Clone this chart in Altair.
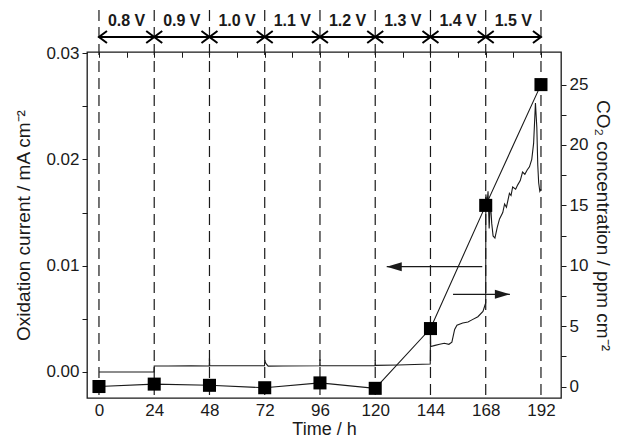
import altair as alt
import pandas as pd

# ---------------- data ----------------
# oxidation current trace (left axis, mA cm^-2)
time_h = [0, 23.9, 24.0, 30, 40, 47.9, 48.0, 48.1, 60, 71.9, 72.0, 72.5, 73.5, 80,
          95.9, 96.0, 96.1, 105, 119.9, 120.0, 120.1, 130, 143.9, 144.0, 144.1,
          146, 148, 150, 152, 153.3, 154.5, 155.5, 158, 160.3, 162, 164.6, 166.8,
          167.7, 168.0, 168.05, 168.6, 169.0, 169.5, 170.0, 170.6, 171.2, 172.0,
          173.0, 174.0, 175.4, 176.2, 177.0, 178.3, 179.0, 179.7, 181.0, 181.9,
          183.0, 184.0, 185.0, 186.0, 187.0, 188.0, 188.8, 189.6, 190.2, 190.6,
          191.0, 191.5, 192.0]
current = [0.0, 0.0, 0.00056, 0.00056, 0.00057, 0.00056, 0.0013, 0.00058, 0.00058,
           0.00058, 0.0011, 0.0008, 0.00055, 0.00056, 0.00058, 0.0012, 0.0006,
           0.00058, 0.00058, 0.0011, 0.00062, 0.00065, 0.00075, 0.0035, 0.0024,
           0.0025, 0.0026, 0.0027, 0.0026, 0.0028, 0.0040, 0.0044, 0.0046, 0.0047,
           0.0049, 0.0052, 0.0057, 0.0063, 0.0065, 0.0167, 0.0158, 0.0170, 0.0135,
           0.0162, 0.0140, 0.0128, 0.0126, 0.0136, 0.0144, 0.0150, 0.0158, 0.0155,
           0.0168, 0.0166, 0.0174, 0.0172, 0.0176, 0.0180, 0.0188, 0.0186, 0.0190,
           0.0193, 0.0200, 0.0215, 0.0253, 0.0230, 0.0195, 0.0178, 0.0170, 0.0172]

# CO2 concentration (right axis, ppm cm^-2)
co2_time = [0, 24, 48, 72, 96, 120, 144, 168, 192]
co2_ppm = [0.0, 0.2, 0.1, -0.1, 0.3, -0.15, 4.8, 15.0, 25.0]

# potential steps
boundaries = [0, 24, 48, 72, 96, 120, 144, 168, 192]
voltages = ["0.8 V", "0.9 V", "1.0 V", "1.1 V", "1.2 V", "1.3 V", "1.4 V", "1.5 V"]

# in-plot arrows (start, end, current-axis level)
arrow_left = [125.0, 166.5, 0.0099]
arrow_right = [153.8, 178.5, 0.0073]

# tick lists
x_major = [0, 24, 48, 72, 96, 120, 144, 168, 192]
x_minor = list(range(0, 193, 12))
y_left_ticks = [0, 0.005, 0.01, 0.015, 0.02, 0.025, 0.03]
y_right_ticks = [0, 2.5, 5, 7.5, 10, 12.5, 15, 17.5, 20, 22.5, 25]

# ---------------- layout ----------------
W, H = 474, 346
X_DOM = [-5.2, 200.7]
Y_LEFT = [-0.00245, 0.0301]
Y_RIGHT = [-0.95, 27.7]
FONT = "Liberation Sans"
INK = "#1a1a1a"

xs = alt.Scale(domain=X_DOM, nice=False, zero=False)
yl = alt.Scale(domain=Y_LEFT, nice=False, zero=False)
yr = alt.Scale(domain=Y_RIGHT, nice=False, zero=False)

df_cur = pd.DataFrame({"t": time_h, "i": current, "k": range(len(time_h))})
df_co2 = pd.DataFrame({"t": co2_time, "c": co2_ppm})
df_b = pd.DataFrame({"t": boundaries})
df_seg = pd.DataFrame({"a": boundaries[:-1], "b": boundaries[1:],
                       "m": [(a + b) / 2 for a, b in zip(boundaries[:-1], boundaries[1:])],
                       "lab": voltages})
df_arr = pd.DataFrame({"a": [arrow_left[0], arrow_right[0]],
                       "b": [arrow_left[1], arrow_right[1]],
                       "y": [arrow_left[2], arrow_right[2]]})

no_x = alt.X("t:Q", scale=xs, axis=None)

# dashed lines + main bottom axis
rules = alt.Chart(df_b).mark_rule(strokeDash=[11, 6], color=INK, strokeWidth=1.2).encode(
    x=alt.X("t:Q", scale=xs,
            axis=alt.Axis(values=x_major, title="Time / h", ticks=False, domain=False,
                          grid=False, labelPadding=4, labelFontSize=17,
                          titleFontSize=18, titleFontWeight="normal",
                          labelColor=INK, titleColor=INK, titlePadding=2,
                          labelFlush=False)),
    y=alt.value(-42), y2=alt.value(H))

# current trace + left axis + bottom inward ticks
cur = alt.Chart(df_cur).mark_line(color=INK, strokeWidth=1.1).encode(
    x=alt.X("t:Q", scale=xs,
            axis=alt.Axis(values=x_minor, labels=False, domain=False, tickSize=5,
                          offset=-5, title=None, grid=False, tickColor=INK)),
    y=alt.Y("i:Q", scale=yl,
            axis=alt.Axis(values=y_left_ticks, orient="left",
                          labelExpr="round(datum.value*1000) % 10 == 0 ? format(datum.value, '.2f') : ''",
                          tickSize=5, domain=False, tickColor=INK, labelFontSize=17,
                          labelPadding=3, labelColor=INK, grid=False,
                          title="Oxidation current / mA cm⁻²", titleFontSize=19,
                          titleFontWeight="normal", titleColor=INK, titlePadding=12)),
    order="k:Q")

# CO2 line + right axis + top inward ticks
co2_line = alt.Chart(df_co2).mark_line(color=INK, strokeWidth=1.1).encode(
    x=alt.X("t:Q", scale=xs,
            axis=alt.Axis(values=x_minor, labels=False, domain=False, tickSize=5,
                          offset=-5, orient="top", title=None, grid=False, tickColor=INK)),
    y=alt.Y("c:Q", scale=yr,
            axis=alt.Axis(values=y_right_ticks, orient="right",
                          labelExpr="datum.value % 5 == 0 ? format(datum.value, 'd') : ''",
                          tickSize=5, domain=False, tickColor=INK, labelFontSize=17,
                          labelPadding=3, labelColor=INK, grid=False,
                          title="CO₂ concentration / ppm cm⁻²", titleFontSize=19,
                          titleFontWeight="normal", titleColor=INK, titlePadding=5)))

co2_pts = alt.Chart(df_co2).mark_square(size=170, color="black", opacity=1).encode(
    x=no_x, y=alt.Y("c:Q", scale=yr, axis=None))

# in-plot arrows
arr_shaft = alt.Chart(df_arr).mark_rule(color=INK, strokeWidth=1.2).encode(
    x=alt.X("a:Q", scale=xs, axis=None), x2="b:Q",
    y=alt.Y("y:Q", scale=yl, axis=None))
arr_head_l = alt.Chart(df_arr.iloc[[0]]).mark_point(
    shape="M0,0L3,-0.9L3,0.9Z", filled=True, size=100, color=INK, opacity=1).encode(
    x=alt.X("a:Q", scale=xs, axis=None), y=alt.Y("y:Q", scale=yl, axis=None))
arr_head_r = alt.Chart(df_arr.iloc[[1]]).mark_point(
    shape="M0,0L-3,-0.9L-3,0.9Z", filled=True, size=100, color=INK, opacity=1).encode(
    x=alt.X("b:Q", scale=xs, axis=None), y=alt.Y("y:Q", scale=yl, axis=None))

# top potential annotations
top_shaft = alt.Chart(df_seg).mark_rule(color="black", strokeWidth=2).encode(
    x=alt.X("a:Q", scale=xs, axis=None), x2="b:Q", y=alt.value(-15))
top_head_l = alt.Chart(df_seg).mark_point(
    shape="M1.6,-1.2L0,0L1.6,1.2", filled=False, size=100, strokeWidth=2,
    color="black", opacity=1).encode(
    x=alt.X("a:Q", scale=xs, axis=None), y=alt.value(-15))
top_head_r = alt.Chart(df_seg).mark_point(
    shape="M-1.6,-1.2L0,0L-1.6,1.2", filled=False, size=100, strokeWidth=2,
    color="black", opacity=1).encode(
    x=alt.X("b:Q", scale=xs, axis=None), y=alt.value(-15))
top_text = alt.Chart(df_seg).mark_text(fontSize=16, fontWeight="bold", font=FONT,
                                       color=INK, baseline="middle").encode(
    x=alt.X("m:Q", scale=xs, axis=None), y=alt.value(-31), text="lab:N")

chart = alt.layer(
    rules, cur, co2_line, co2_pts, arr_shaft, arr_head_l, arr_head_r,
    top_shaft, top_head_l, top_head_r, top_text
).resolve_scale(y="independent").resolve_axis(x="independent", y="independent").properties(
    width=W, height=H,
    padding={"left": 79, "top": 44, "right": 55, "bottom": 41},
    autosize=alt.AutoSizeParams(type="none"),
    background="white",
).configure_axis(labelFont=FONT, titleFont=FONT).configure_view(
    stroke=INK, strokeWidth=1.3)

chart.save("out.html", embed_options={"renderer": "svg", "actions": False})
